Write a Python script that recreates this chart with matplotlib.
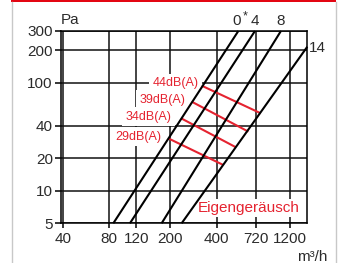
import matplotlib
matplotlib.use("Agg")
import matplotlib.pyplot as plt
from matplotlib.lines import Line2D
from matplotlib.patches import Rectangle

# ---- data ----
x_ticks = [40, 80, 120, 200, 400, 720, 1200]
y_ticks = [5, 10, 20, 40, 100, 200, 300]

# characteristic lines (flow m3/h, pressure Pa) endpoints
curve_labels = ["0*", "4", "8", "14"]
curve_x = [[84.9, 552.6], [108.9, 708.9], [175.1, 1045.9], [236.3, 1553.0]]
curve_y = [[5, 300], [5, 300], [5, 300], [5, 214.7]]

# sound level lines
db_labels = ["44dB(A)", "39dB(A)", "34dB(A)", "29dB(A)"]
db_x = [[319.4, 773.0], [274.9, 642.0], [234.2, 533.8], [193.6, 441.3]]
db_y = [[93.6, 52.0], [66.6, 35.2], [46.8, 25.2], [30.5, 17.3]]
db_label_x = [303.4, 248.7, 203.7, 175.4]
db_label_y = [98.5, 69.0, 48.4, 31.6]

RED = "#e52330"
TXT = "#2b2b2b"
FONT = "Liberation Sans"

W, H = 341, 263
fig = plt.figure(figsize=(W / 100, H / 100), dpi=100)
fig.patch.set_facecolor("white")

# frame decorations
fig.add_artist(Rectangle((11 / W, 1 - 2.2 / H), (336 - 11) / W, 2.2 / H,
                         transform=fig.transFigure, color="#e30613", lw=0))
for xp in (11.5, 335.5):
    fig.add_artist(Line2D([xp / W, xp / W], [0, 1 - 2 / H], transform=fig.transFigure,
                          color="#c8c8c8", lw=1.0))

ax = fig.add_axes([60.7 / W, (H - 223.3) / H, 246.6 / W, 192.3 / H])
ax.set_xscale("log")
ax.set_yscale("log")
ax.set_xlim(38.6, 1553)
ax.set_ylim(5, 300)

ax.set_xticks(x_ticks)
ax.set_xticklabels([str(v) for v in x_ticks])
ax.set_yticks(y_ticks)
ax.set_yticklabels([str(v) for v in y_ticks])
ax.minorticks_off()
ax.tick_params(axis="y", length=4.3, width=1.1, pad=1.4, labelsize=11,
               labelcolor=TXT, color="black")
ax.tick_params(axis="x", length=3.6, width=1.1, pad=3.0, labelsize=11,
               labelcolor=TXT, color="black")
for lab in ax.get_xticklabels() + ax.get_yticklabels():
    lab.set_fontfamily(FONT)

ax.grid(True, which="major", color="#111111", lw=1.1)
ax.set_axisbelow(True)
for s in ax.spines.values():
    s.set_color("black")
    s.set_linewidth(1.1)

# characteristic lines
for xs, ys in zip(curve_x, curve_y):
    ax.plot(xs, ys, color="black", lw=1.5, zorder=3, solid_capstyle="butt", clip_on=False)

# dB lines
for xs, ys in zip(db_x, db_y):
    ax.plot(xs, ys, color=RED, lw=1.5, zorder=2.8, solid_capstyle="butt")

for lab, lx, ly in zip(db_labels, db_label_x, db_label_y):
    ax.text(lx, ly, lab, color=RED, fontsize=9, family=FONT, ha="right", va="center",
            zorder=1.5, bbox=dict(facecolor="white", edgecolor="none", pad=2.6))

ax.text(302, 6.93, "Eigengeräusch", color=RED, fontsize=11, family=FONT,
        ha="left", va="center", zorder=1.5,
        bbox=dict(facecolor="white", edgecolor="none", pad=1.5))

# curve labels above the top ends
ax.annotate("0", xy=(curve_x[0][1], 300), xytext=(-1, 4.5), textcoords="offset points",
            ha="center", va="baseline", fontsize=11, family=FONT, color=TXT,
            annotation_clip=False)
ax.annotate("*", xy=(curve_x[0][1], 300), xytext=(5, 8.5), textcoords="offset points",
            ha="center", va="baseline", fontsize=9, family=FONT, color=TXT,
            annotation_clip=False)
ax.annotate(curve_labels[1], xy=(curve_x[1][1], 300), xytext=(0, 4.5),
            textcoords="offset points", ha="center", va="baseline", fontsize=11,
            family=FONT, color=TXT, annotation_clip=False)
ax.annotate(curve_labels[2], xy=(curve_x[2][1], 300), xytext=(0, 4.5),
            textcoords="offset points", ha="center", va="baseline", fontsize=11,
            family=FONT, color=TXT, annotation_clip=False)
ax.annotate(curve_labels[3], xy=(curve_x[3][1], curve_y[3][1]), xytext=(1, -1),
            textcoords="offset points", ha="left", va="center", fontsize=11,
            family=FONT, color=TXT, annotation_clip=False)

# axis units
ax.annotate("Pa", xy=(0, 1), xycoords="axes fraction", xytext=(0, 5),
            textcoords="offset points", ha="left", va="baseline", fontsize=11,
            family=FONT, color=TXT)
ax.annotate("m³/h", xy=(1, 0), xycoords="axes fraction", xytext=(14.4, -27.5),
            textcoords="offset points", ha="right", va="baseline", fontsize=11,
            family=FONT, color=TXT, annotation_clip=False)

fig.savefig("out.png", dpi=100, facecolor="white")
